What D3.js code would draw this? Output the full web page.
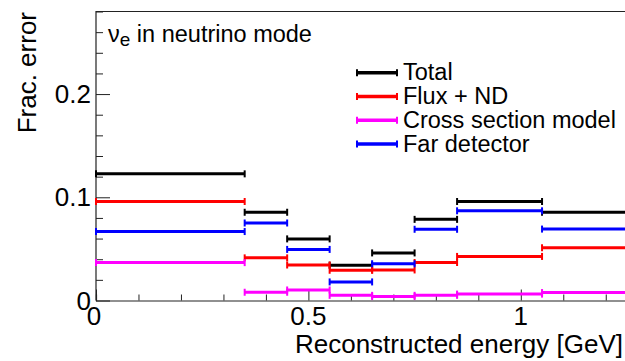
<!DOCTYPE html>
<html>
<head>
<meta charset="utf-8">
<script src="https://cdn.jsdelivr.net/npm/d3@7"></script>
<style>
  body { margin: 0; background: #fff; }
  text { font-family: "Liberation Sans", Arial, sans-serif; fill: #000; }
</style>
</head>
<body>
<div id="chart"></div>
<script>
// bin edges in reconstructed energy [GeV]
const binEdges = [0, 0.35, 0.45, 0.55, 0.65, 0.75, 0.85, 1.05, 1.25];

// fractional error per bin
const totalErr = [0.1227, 0.0855, 0.0597, 0.0342, 0.0461, 0.0786, 0.0959, 0.0855];
const fluxErr  = [0.0959, 0.0413, 0.0344, 0.0293, 0.0296, 0.0368, 0.0427, 0.0511];
const xsecErr  = [0.0367, 0.0080, 0.0102, 0.0050, 0.0038, 0.0050, 0.0062, 0.0077];
const fdErr    = [0.0668, 0.0751, 0.0495, 0.0180, 0.0356, 0.0690, 0.0869, 0.0692];

const seriesNames = ["Total", "Flux + ND", "Cross section model", "Far detector"];
const seriesColors = ["#000000", "#ff0000", "#ff00ff", "#0000ff"];

const xTickLabels = [0, 0.5, 1];
const yTickLabels = [0, 0.1, 0.2];

class FracErrorChart {

  constructor(parentElement, series) {
    this.parentElement = parentElement;
    this.series = series;
    this.initVis();
  }

  initVis() {
    let vis = this;

    vis.width = 625;
    vis.height = 361;

    vis.svg = d3.select("#" + vis.parentElement)
      .append("svg")
      .attr("width", vis.width)
      .attr("height", vis.height);

    vis.x = d3.scaleLinear().domain([0, 1.25]).range([96, 627]);
    vis.y = d3.scaleLinear().domain([0, 0.28]).range([300.5, 11.5]);

    vis.drawAxes();
    vis.updateVis();
  }

  drawAxes() {
    let vis = this;
    let axisColor = "#222";

    // frame: left and top lines
    vis.svg.append("path")
      .attr("d", `M${vis.x(0)},${vis.y(0)} V${vis.y(0.28)} H${vis.x(1.25)}`)
      .attr("fill", "none")
      .attr("stroke", axisColor)
      .attr("stroke-width", 1.2);

    // y axis ticks (inward), minor every 0.02
    let yAxis = d3.axisRight(vis.y)
      .tickValues(d3.range(0, 0.281, 0.02))
      .tickSize(7)
      .tickFormat("");
    let gy = vis.svg.append("g")
      .attr("transform", `translate(${vis.x(0)},0)`)
      .call(yAxis);
    gy.select(".domain").remove();
    gy.selectAll(".tick line")
      .attr("stroke", axisColor)
      .attr("x2", d => (Math.abs(d * 10 - Math.round(d * 10)) < 1e-6 ? 14 : 7));

    yTickLabels.forEach(v => {
      vis.svg.append("text")
        .attr("x", 91)
        .attr("y", vis.y(v))
        .attr("dy", "0.35em")
        .attr("text-anchor", "end")
        .style("font-size", "26px")
        .text(v);
    });

    // x axis, minor every 0.1
    let xAxis = d3.axisTop(vis.x)
      .tickValues(d3.range(0, 1.26, 0.1))
      .tickSize(6)
      .tickFormat("");
    let gx = vis.svg.append("g")
      .attr("transform", `translate(0,${vis.y(0)})`)
      .call(xAxis);
    gx.select(".domain")
      .attr("stroke", axisColor)
      .attr("stroke-width", 1.2);
    gx.selectAll(".tick line")
      .attr("stroke", axisColor)
      .attr("y2", d => (Math.abs(d * 2 - Math.round(d * 2)) < 1e-6 ? -11 : -6));

    xTickLabels.forEach(v => {
      vis.svg.append("text")
        .attr("x", vis.x(v) - (v === 0 ? 2 : 0))
        .attr("y", 325)
        .attr("text-anchor", "middle")
        .style("font-size", "26px")
        .text(v);
    });

    // axis titles
    vis.svg.append("text")
      .attr("x", 623)
      .attr("y", 353)
      .attr("text-anchor", "end")
      .style("font-size", "26px")
      .text("Reconstructed energy [GeV]");

    vis.svg.append("text")
      .attr("transform", "translate(36,12) rotate(-90)")
      .attr("text-anchor", "end")
      .style("font-size", "26px")
      .text("Frac. error");

    // sample label
    let lab = vis.svg.append("text")
      .attr("x", 108)
      .attr("y", 42)
      .style("font-size", "23.5px");
    lab.append("tspan").text("ν");
    lab.append("tspan").attr("dy", 4).style("font-size", "19px").text("e");
    lab.append("tspan").attr("dy", -4).text(" in neutrino mode");
  }

  updateVis() {
    let vis = this;

    vis.series.forEach((s, si) => {
      let bins = s.values.map((v, i) => ({ x0: binEdges[i], x1: binEdges[i + 1], v: v }));
      let g = vis.svg.append("g").attr("class", "series-" + si);

      g.selectAll(".bar")
        .data(bins)
        .enter()
        .append("line")
        .attr("x1", d => vis.x(d.x0))
        .attr("x2", d => vis.x(d.x1))
        .attr("y1", d => vis.y(d.v))
        .attr("y2", d => vis.y(d.v))
        .attr("stroke", s.color)
        .attr("stroke-width", 3);

      // end caps
      let caps = [];
      bins.forEach(d => { caps.push({ x: d.x0, v: d.v }); caps.push({ x: d.x1, v: d.v }); });
      g.selectAll(".cap")
        .data(caps)
        .enter()
        .append("line")
        .attr("x1", d => vis.x(d.x))
        .attr("x2", d => vis.x(d.x))
        .attr("y1", d => vis.y(d.v) - 3.5)
        .attr("y2", d => vis.y(d.v) + 3.5)
        .attr("stroke", s.color)
        .attr("stroke-width", 2);
    });

    // legend
    let leg = vis.svg.append("g").attr("class", "legend");
    vis.series.forEach((s, i) => {
      let ly = 72.7 + i * 23.8;
      leg.append("line")
        .attr("x1", 357).attr("x2", 397)
        .attr("y1", ly).attr("y2", ly)
        .attr("stroke", s.color)
        .attr("stroke-width", 3.5);
      [357, 397].forEach(cx => {
        leg.append("line")
          .attr("x1", cx).attr("x2", cx)
          .attr("y1", ly - 3.5).attr("y2", ly + 3.5)
          .attr("stroke", s.color)
          .attr("stroke-width", 2);
      });
      leg.append("text")
        .attr("x", 403)
        .attr("y", ly + 7.5)
        .style("font-size", "23.5px")
        .text(s.name);
    });
  }
}

const series = [
  { name: seriesNames[0], color: seriesColors[0], values: totalErr },
  { name: seriesNames[1], color: seriesColors[1], values: fluxErr },
  { name: seriesNames[2], color: seriesColors[2], values: xsecErr },
  { name: seriesNames[3], color: seriesColors[3], values: fdErr }
];

new FracErrorChart("chart", series);
</script>
</body>
</html>
